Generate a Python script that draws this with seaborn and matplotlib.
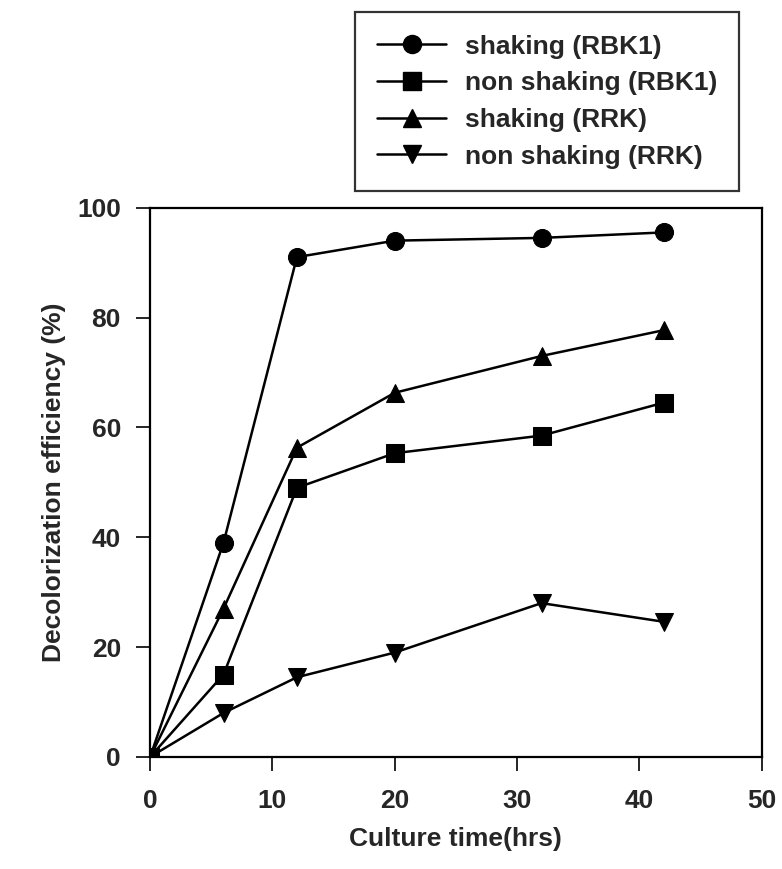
import matplotlib
matplotlib.use("Agg")
import matplotlib.pyplot as plt
import seaborn as sns
import pandas as pd

# data
hours = [0, 6, 12, 20, 32, 42]
shaking_rbk1 = [0, 39, 91, 94, 94.5, 95.5]
nonshaking_rbk1 = [0, 15, 49, 55.3, 58.5, 64.5]
shaking_rrk = [0, 27, 56.3, 66.3, 73, 77.7]
nonshaking_rrk = [0, 8, 14.5, 19, 28, 24.6]
series_names = ["shaking (RBK1)", "non shaking (RBK1)", "shaking (RRK)", "non shaking (RRK)"]
series_markers = ["o", "s", "^", "v"]

#build long table for seaborn
rows = []
for name, vals in zip(series_names, [shaking_rbk1, nonshaking_rbk1, shaking_rrk, nonshaking_rrk]):
    for h, v in zip(hours, vals):
        rows.append({"time": h, "eff": v, "series": name})
df = pd.DataFrame(rows)

sns.set_style("ticks")
plt.rcParams['font.family'] = ['Liberation Sans', 'DejaVu Sans']
plt.rcParams['font.weight'] = 'bold'

fig = plt.figure(figsize=(7.82, 8.69), dpi=100)
ax = fig.add_axes([0.192, 0.129, 0.782, 0.632])

sns.lineplot(data=df, x="time", y="eff", hue="series", style="series",
             hue_order=series_names, style_order=series_names,
             palette=["black"] * 4, markers=dict(zip(series_names, series_markers)),
             dashes=False, markersize=13, linewidth=1.8, markeredgecolor="black",
             ax=ax, legend=False)

ax.set_xlim(0, 50)
ax.set_ylim(0, 100)
ax.set_xticks([0, 10, 20, 30, 40, 50])
ax.set_yticks([0, 20, 40, 60, 80, 100])
ax.tick_params(direction="out", length=10, width=1.4, labelsize=19)
ax.tick_params(axis="x", pad=13)
ax.tick_params(axis="y", pad=11)
for s in ax.spines.values():
    s.set_linewidth(1.6)
    s.set_color("black")
ax.set_xlabel("Culture time(hrs)", fontsize=19, fontweight="bold", labelpad=10)
ax.set_ylabel("Decolorization efficiency (%)", fontsize=19, fontweight="bold", labelpad=8)

# legend boxed at top right, outside axes
handles = [plt.Line2D([], [], color="black", marker=m, markersize=13, linewidth=1.8)
           for m in series_markers]
leg = fig.legend(handles, series_names, loc="upper left", bbox_to_anchor=(0.454, 0.986),
                 borderaxespad=0, prop={"size": 19, "weight": "bold"}, frameon=True,
                 fancybox=False, edgecolor="black", handlelength=2.6, labelspacing=0.48,
                 borderpad=0.85, handletextpad=0.7)
leg.get_frame().set_linewidth(1.6)

fig.savefig("out.png", dpi=100)
